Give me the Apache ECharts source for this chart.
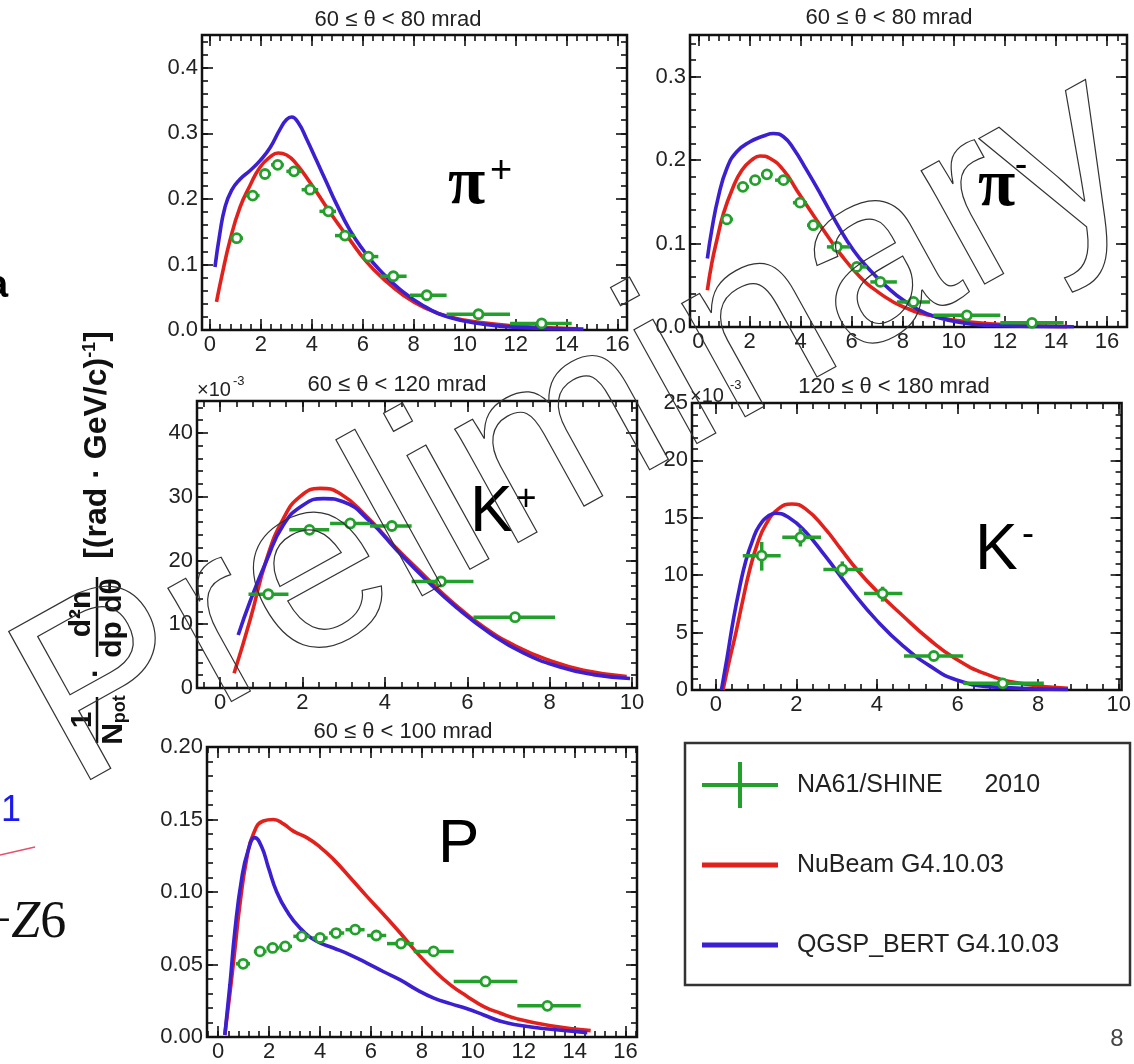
<!DOCTYPE html>
<html>
<head>
<meta charset="utf-8">
<script src="https://cdn.jsdelivr.net/npm/echarts@6/dist/echarts.min.js"></script>
<style>
  html, body { margin: 0; padding: 0; background: #fff; }
  #chart { width: 1134px; height: 1064px; }
</style>
</head>
<body>
<div id="chart"></div>
<script>
// ---- data ----
const NAME_DATA = 'NA61/SHINE      2010';
const NAME_NUBEAM = 'NuBeam G4.10.03';
const NAME_QGSP = 'QGSP_BERT G4.10.03';

// tick labels
const piXTicks = [0, 2, 4, 6, 8, 10, 12, 14, 16];
const kXTicks = [0, 2, 4, 6, 8, 10];
const piPlusYTicks = [0, 0.1, 0.2, 0.3, 0.4];
const piMinusYTicks = [0, 0.1, 0.2, 0.3];
const kPlusYTicks = [0, 10, 20, 30, 40];
const kMinusYTicks = [0, 5, 10, 15, 20, 25];
const protonYTicks = [0, 0.05, 0.1, 0.15, 0.2];

// pi+ 60-80 mrad : [p, value, pLow, pHigh]
const piPlusNA61 = [
  [1.05, 0.140, 0.80, 1.30], [1.68, 0.205, 1.40, 1.95], [2.16, 0.238, 1.95, 2.40],
  [2.66, 0.252, 2.40, 2.90], [3.30, 0.242, 3.00, 3.60], [3.93, 0.214, 3.60, 4.25],
  [4.65, 0.181, 4.30, 4.95], [5.30, 0.144, 4.91, 5.69], [6.22, 0.112, 5.95, 6.61],
  [7.20, 0.082, 6.68, 7.72], [8.51, 0.053, 7.85, 9.29], [10.54, 0.024, 9.29, 11.78],
  [13.02, 0.010, 11.78, 14.20]
];
const piPlusNuBeam = [
  [0.26, 0.043], [0.46, 0.081], [0.79, 0.137], [1.18, 0.187], [1.57, 0.220], [1.96, 0.248],
  [2.36, 0.264], [2.68, 0.270], [3.01, 0.267], [3.40, 0.253], [3.93, 0.225], [4.45, 0.195],
  [4.97, 0.165], [5.50, 0.137], [6.15, 0.104], [6.81, 0.078], [7.59, 0.053], [8.38, 0.035],
  [9.42, 0.020], [10.73, 0.011], [12.04, 0.006], [13.35, 0.0035], [14.40, 0.002]
];
const piPlusQgsp = [
  [0.20, 0.096], [0.39, 0.147], [0.59, 0.187], [0.85, 0.213], [1.18, 0.230], [1.57, 0.243],
  [1.96, 0.258], [2.36, 0.278], [2.75, 0.306], [3.01, 0.321], [3.21, 0.325], [3.47, 0.316],
  [3.80, 0.291], [4.19, 0.258], [4.58, 0.225], [4.97, 0.192], [5.50, 0.152], [6.02, 0.122],
  [6.67, 0.091], [7.46, 0.062], [8.38, 0.037], [9.42, 0.019], [10.73, 0.009], [12.04, 0.004],
  [14.66, 0.0015]
];

// pi- 60-80 mrad
const piMinusNA61 = [
  [1.11, 0.129, 0.90, 1.35], [1.74, 0.168, 1.50, 1.98], [2.22, 0.176, 2.00, 2.45],
  [2.68, 0.183, 2.45, 2.90], [3.33, 0.176, 3.00, 3.65], [3.98, 0.149, 3.70, 4.25],
  [4.50, 0.122, 4.25, 4.80], [5.42, 0.096, 5.03, 5.94], [6.20, 0.072, 5.94, 6.60],
  [7.12, 0.054, 6.73, 7.77], [8.42, 0.030, 7.77, 9.07], [10.51, 0.014, 9.20, 11.82],
  [13.06, 0.005, 11.82, 14.30]
];
const piMinusNuBeam = [
  [0.35, 0.044], [0.52, 0.076], [0.72, 0.104], [0.98, 0.136], [1.31, 0.164], [1.70, 0.188],
  [2.16, 0.202], [2.41, 0.205], [2.81, 0.202], [3.33, 0.188], [3.85, 0.164], [4.37, 0.140],
  [4.90, 0.116], [5.55, 0.088], [6.33, 0.060], [7.12, 0.040], [8.03, 0.024], [9.34, 0.012],
  [10.64, 0.006], [12.60, 0.002], [14.43, 0.0005]
];
const piMinusQgsp = [
  [0.35, 0.082], [0.52, 0.116], [0.78, 0.156], [1.11, 0.190], [1.50, 0.210], [2.02, 0.222],
  [2.55, 0.229], [2.94, 0.232], [3.33, 0.228], [3.72, 0.214], [4.24, 0.188], [4.77, 0.160],
  [5.42, 0.124], [6.07, 0.092], [6.72, 0.068], [7.38, 0.048], [8.03, 0.032], [8.94, 0.016],
  [9.99, 0.007], [11.30, 0.002], [14.70, 0.0003]
];

// K+ 60-120 mrad, values in units of 1e-3
const kPlusNA61 = [
  [1.17, 14.7, 0.69, 1.66], [2.17, 24.8, 1.68, 2.65], [3.16, 25.8, 2.67, 3.64],
  [4.17, 25.4, 3.64, 4.65], [5.36, 16.7, 4.65, 6.15], [7.16, 11.1, 6.15, 8.13]
];
const kPlusNuBeam = [
  [0.34, 2.3], [0.73, 10.7], [1.13, 20.2], [1.54, 26.6], [1.94, 30.0], [2.43, 31.3],
  [2.91, 30.5], [3.56, 26.9], [4.21, 22.4], [4.93, 17.8], [5.58, 13.8], [6.39, 9.6],
  [7.20, 6.5], [8.01, 4.3], [8.82, 2.8], [9.87, 1.8]
];
const kPlusQgsp = [
  [0.44, 8.3], [0.73, 13.6], [1.13, 20.0], [1.54, 25.6], [2.02, 28.7], [2.51, 29.7],
  [2.99, 29.2], [3.64, 26.1], [4.29, 21.6], [5.01, 16.9], [5.74, 12.6], [6.55, 8.6],
  [7.36, 5.5], [8.25, 3.3], [9.06, 2.1], [9.95, 1.5]
];

// K- 120-180 mrad, values in units of 1e-3 : [p, value, pLow, pHigh, vLow, vHigh]
const kMinusNA61 = [
  [1.14, 11.7, 0.67, 1.61, 10.4, 12.9], [2.10, 13.3, 1.65, 2.61, 12.5, 14.1],
  [3.14, 10.5, 2.67, 3.65, 9.9, 11.2], [4.14, 8.4, 3.68, 4.63, 7.7, 9.0],
  [5.41, 2.96, 4.67, 6.14, 2.7, 3.2], [7.12, 0.58, 6.14, 8.14, 0.45, 0.7]
];
const kMinusNuBeam = [
  [0.18, 0], [0.34, 2.6], [0.50, 5.0], [0.67, 7.8], [0.83, 10.3], [1.03, 12.7], [1.24, 14.4],
  [1.56, 15.8], [1.89, 16.2], [2.22, 15.8], [2.70, 14.1], [3.10, 12.3], [3.50, 10.5],
  [4.00, 8.6], [4.60, 6.6], [5.30, 4.4], [5.96, 2.7], [6.70, 1.4], [7.51, 0.6], [8.74, 0.15]
];
const kMinusQgsp = [
  [0.14, 0], [0.28, 2.8], [0.43, 6.0], [0.59, 8.9], [0.75, 11.3], [0.92, 13.1], [1.08, 14.3],
  [1.32, 15.2], [1.49, 15.4], [1.82, 15.0], [2.22, 13.8], [2.71, 11.7], [3.36, 8.7],
  [4.01, 6.0], [4.66, 3.8], [5.31, 2.1], [5.96, 0.9], [6.94, 0.25], [8.74, 0.05]
];

// p 60-100 mrad
const protonNA61 = [
  [0.98, 0.0505, 0.70, 1.25], [1.64, 0.0590, 1.40, 1.90], [2.14, 0.0614, 1.90, 2.40],
  [2.63, 0.0625, 2.40, 2.90], [3.28, 0.0694, 2.95, 3.60], [4.00, 0.0683, 3.70, 4.30],
  [4.63, 0.0717, 4.35, 4.95], [5.38, 0.0740, 5.00, 5.75], [6.21, 0.0700, 5.85, 6.60],
  [7.18, 0.0644, 6.63, 7.68], [8.46, 0.0590, 7.68, 9.25], [10.50, 0.0383, 9.25, 11.75],
  [12.93, 0.0215, 11.75, 14.24]
];
const protonNuBeam = [
  [0.26, 0.0014], [0.46, 0.030], [0.66, 0.061], [0.85, 0.091], [1.12, 0.123], [1.38, 0.140],
  [1.77, 0.149], [2.17, 0.150], [2.56, 0.147], [2.95, 0.142], [3.48, 0.1375], [4.00, 0.131],
  [4.53, 0.1225], [5.18, 0.110], [5.84, 0.097], [6.50, 0.0845], [7.15, 0.0717], [7.81, 0.058],
  [8.47, 0.046], [9.12, 0.036], [9.78, 0.028], [10.43, 0.021], [11.09, 0.0164], [11.75, 0.0125],
  [13.06, 0.0078], [14.63, 0.0044]
];
const protonQgsp = [
  [0.26, 0.0014], [0.46, 0.036], [0.66, 0.074], [0.92, 0.109], [1.18, 0.129], [1.44, 0.1375],
  [1.71, 0.131], [1.97, 0.117], [2.30, 0.100], [2.69, 0.087], [3.22, 0.075], [3.87, 0.066],
  [4.53, 0.0614], [5.18, 0.0567], [5.84, 0.051], [6.50, 0.045], [7.15, 0.0394], [7.81, 0.0325],
  [8.47, 0.0268], [9.12, 0.0230], [9.78, 0.0195], [10.43, 0.0152], [11.09, 0.0108],
  [11.75, 0.0083], [13.06, 0.0053], [14.50, 0.003]
];

// ---- layout / style ----
const FONT = '"Liberation Sans", Arial, Helvetica, sans-serif';
const SERIF = '"Liberation Serif", "Times New Roman", serif';
const GREEN = '#23a02b';
const RED = '#e3211c';
const BLUE = '#3b1fd1';
const INK = '#111';

const panels = [
  { box: [202, 35, 425, 295], x: [-0.31, 16.37], y: [0, 0.45], xTicks: piXTicks, yTicks: piPlusYTicks,
    xMinor: 0.4, yMinor: 0.02, digits: 1, na61: piPlusNA61, nubeam: piPlusNuBeam, qgsp: piPlusQgsp },
  { box: [690, 35, 437, 292], x: [-0.33, 16.78], y: [0, 0.35], xTicks: piXTicks, yTicks: piMinusYTicks,
    xMinor: 0.4, yMinor: 0.02, digits: 1, na61: piMinusNA61, nubeam: piMinusNuBeam, qgsp: piMinusQgsp },
  { box: [197, 401, 440, 287], x: [-0.56, 10.12], y: [0, 45], xTicks: kXTicks, yTicks: kPlusYTicks,
    xMinor: 0.4, yMinor: 2, digits: 0, na61: kPlusNA61, nubeam: kPlusNuBeam, qgsp: kPlusQgsp },
  { box: [692, 403, 436, 287], x: [-0.59, 10.07], y: [0, 25], xTicks: kXTicks, yTicks: kMinusYTicks,
    xMinor: 0.4, yMinor: 1, digits: 0, na61: kMinusNA61, nubeam: kMinusNuBeam, qgsp: kMinusQgsp },
  { box: [207, 747, 430, 290], x: [-0.44, 16.45], y: [0, 0.2], xTicks: piXTicks, yTicks: protonYTicks,
    xMinor: 0.4, yMinor: 0.01, digits: 2, na61: protonNA61, nubeam: protonNuBeam, qgsp: protonQgsp }
];

function ticksBetween(min, max, step) {
  const out = [];
  for (let i = Math.ceil(min / step - 1e-9); i * step <= max + 1e-9; i++) {
    out.push(+(i * step).toFixed(6));
  }
  return out;
}

function makeAxis(gi, pos, range, values, len, fmt) {
  return {
    type: 'value', gridIndex: gi, position: pos, min: range[0], max: range[1],
    splitLine: { show: false },
    axisLine: { show: false, onZero: false },
    axisTick: { show: true, inside: true, length: len, customValues: values,
      lineStyle: { color: INK, width: 1.6 } },
    axisLabel: fmt ? { show: true, customValues: values, formatter: fmt, margin: 4,
      fontSize: 22, color: '#222', fontFamily: FONT } : { show: false }
  };
}

// data points with error bars
function renderErr(params, api) {
  const c = api.coord([api.value(0), api.value(1)]);
  const l = api.coord([api.value(2), api.value(1)]);
  const r = api.coord([api.value(3), api.value(1)]);
  const lo = api.coord([api.value(0), api.value(4)]);
  const hi = api.coord([api.value(0), api.value(5)]);
  const st = { stroke: GREEN, lineWidth: 3.5 };
  return {
    type: 'group',
    children: [
      { type: 'line', shape: { x1: l[0], y1: l[1], x2: r[0], y2: r[1] }, style: st },
      { type: 'line', shape: { x1: lo[0], y1: lo[1], x2: hi[0], y2: hi[1] }, style: st },
      { type: 'circle', shape: { cx: c[0], cy: c[1], r: 4.5 },
        style: { fill: '#fff', stroke: GREEN, lineWidth: 2.8 } }
    ]
  };
}

const grid = [], xAxis = [], yAxis = [], series = [];
panels.forEach((pn, gi) => {
  grid.push({ left: pn.box[0], top: pn.box[1], width: pn.box[2], height: pn.box[3],
    show: true, borderColor: INK, borderWidth: 2.5, backgroundColor: 'transparent' });
  const xi = xAxis.length, yi = yAxis.length;
  const xMinor = ticksBetween(pn.x[0], pn.x[1], pn.xMinor);
  const yMinor = ticksBetween(pn.y[0], pn.y[1], pn.yMinor);
  xAxis.push(
    makeAxis(gi, 'bottom', pn.x, pn.xTicks, 11, v => String(v)),
    makeAxis(gi, 'bottom', pn.x, xMinor, 6, null),
    makeAxis(gi, 'top', pn.x, pn.xTicks, 11, null),
    makeAxis(gi, 'top', pn.x, xMinor, 6, null)
  );
  yAxis.push(
    makeAxis(gi, 'left', pn.y, pn.yTicks, 11, v => Number(v).toFixed(pn.digits)),
    makeAxis(gi, 'left', pn.y, yMinor, 6, null),
    makeAxis(gi, 'right', pn.y, pn.yTicks, 11, null),
    makeAxis(gi, 'right', pn.y, yMinor, 6, null)
  );
  const rows = pn.na61.map(d => d.length === 6 ? d : [d[0], d[1], d[2], d[3], d[1], d[1]]);
  series.push(
    { type: 'line', name: NAME_NUBEAM, xAxisIndex: xi, yAxisIndex: yi, data: pn.nubeam,
      showSymbol: false, smooth: 0.5,
      lineStyle: { color: RED, width: 3.6 }, itemStyle: { color: RED }, z: 2 },
    { type: 'line', name: NAME_QGSP, xAxisIndex: xi, yAxisIndex: yi, data: pn.qgsp,
      showSymbol: false, smooth: 0.5,
      lineStyle: { color: BLUE, width: 3.6 }, itemStyle: { color: BLUE }, z: 3 },
    { type: 'custom', name: NAME_DATA, xAxisIndex: xi, yAxisIndex: yi, data: rows,
      encode: { x: [0, 2, 3], y: [1, 4, 5] }, renderItem: renderErr,
      itemStyle: { color: GREEN }, z: 4 }
  );
});

const crossIcon = 'path://M0,21H76V25H0Z M36,0H40V46H36Z';
const barIcon = 'path://M0,0H0.01V0.01H0Z M0,20.5H76V25.5H0Z M75.99,45.99H76V46H75.99Z';

function txt(x, y, text, font, fill) {
  return { type: 'text', x: x, y: y, z: 50,
    style: { text: text, font: font, fill: fill || INK, align: 'center', verticalAlign: 'middle' } };
}
function leftTxt(x, y, text, font, fill) {
  return { type: 'text', x: x, y: y, z: 50,
    style: { text: text, font: font, fill: fill || '#000', align: 'left', verticalAlign: 'middle' } };
}

const graphic = [
  // panel titles
  txt(398, 20, '60 ≤ θ < 80 mrad', '22px ' + FONT, '#222'),
  txt(889, 18, '60 ≤ θ < 80 mrad', '22px ' + FONT, '#222'),
  txt(397, 385, '60 ≤ θ < 120 mrad', '22px ' + FONT, '#222'),
  txt(894, 387, '120 ≤ θ < 180 mrad', '22px ' + FONT, '#222'),
  txt(403, 732, '60 ≤ θ < 100 mrad', '22px ' + FONT, '#222'),
  // exponent markers
  leftTxt(197, 390, '×10', '20px ' + FONT, '#222'),
  leftTxt(233, 381, '-3', '13px ' + FONT, '#222'),
  leftTxt(690, 396, '×10', '20px ' + FONT, '#222'),
  leftTxt(730, 385, '-3', '13px ' + FONT, '#222'),
  // particle labels
  leftTxt(448, 185, 'π', 'bold 68px ' + SERIF),
  txt(501, 172, '+', '38px ' + FONT, '#000'),
  leftTxt(978, 187, 'π', 'bold 68px ' + SERIF),
  txt(1021, 167, '-', '38px ' + FONT, '#000'),
  leftTxt(470, 513, 'K', '64px ' + FONT),
  txt(526, 500, '+', '36px ' + FONT, '#000'),
  leftTxt(975, 551, 'K', '64px ' + FONT),
  txt(1028, 535, '-', '36px ' + FONT, '#000'),
  leftTxt(438, 845, 'P', '62px ' + FONT),
  // y-axis title (rotated)
  {
    type: 'group', x: 97, y: 743, rotation: Math.PI / 2, z: 50,
    children: [
      { type: 'line', shape: { x1: 0, y1: 0, x2: 46, y2: 0 }, style: { stroke: INK, lineWidth: 2.5 } },
      { type: 'text', x: 23, y: -14, style: { text: '1', font: 'bold 30px ' + FONT, fill: INK,
        align: 'center', verticalAlign: 'middle' } },
      { type: 'text', x: 23, y: 17, style: { text: '{n|N}{s|pot}', fill: INK, align: 'center', verticalAlign: 'middle',
        rich: { n: { fontSize: 30, fontWeight: 'bold', fontFamily: FONT },
                s: { fontSize: 18, fontWeight: 'bold', fontFamily: FONT, verticalAlign: 'bottom' } } } },
      { type: 'text', x: 70, y: 0, style: { text: '·', font: 'bold 30px ' + FONT, fill: INK,
        align: 'center', verticalAlign: 'middle' } },
      { type: 'line', shape: { x1: 86, y1: 0, x2: 166, y2: 0 }, style: { stroke: INK, lineWidth: 2.5 } },
      { type: 'text', x: 129, y: -15, style: { text: 'd²n', font: 'bold 30px ' + FONT, fill: INK,
        align: 'center', verticalAlign: 'middle' } },
      { type: 'text', x: 125, y: 16, style: { text: 'dp dθ', font: 'bold 30px ' + FONT, fill: INK,
        align: 'center', verticalAlign: 'middle' } },
      { type: 'text', x: 298, y: 0, style: { text: '{b|[(rad · GeV/c)}{s|-1}{b|]}', fill: INK,
        align: 'center', verticalAlign: 'middle',
        rich: { b: { fontSize: 32, fontWeight: 'bold', fontFamily: FONT },
                s: { fontSize: 18, fontWeight: 'bold', fontFamily: FONT, verticalAlign: 'top' } } } }
    ]
  },
  // legend frame
  { type: 'rect', z: 40, shape: { x: 685, y: 743, width: 445, height: 242 },
    style: { fill: 'none', stroke: '#333', lineWidth: 2.5 } },
  // slide fragments at the left edge
  leftTxt(-13, 287, 'a', 'bold 38px ' + FONT),
  leftTxt(1, 811, '1', '36px ' + FONT, '#1a1aee'),
  { type: 'line', z: 50, shape: { x1: 0, y1: 855, x2: 35, y2: 847 }, style: { stroke: '#e4506e', lineWidth: 1.5 } },
  { type: 'text', x: -18, y: 923, z: 50, style: { text: '{m|−}{z|Z}{n|6}', fill: '#111', align: 'left',
    verticalAlign: 'middle',
    rich: { m: { fontSize: 52, fontFamily: SERIF }, z: { fontSize: 52, fontFamily: SERIF, fontStyle: 'italic' },
            n: { fontSize: 52, fontFamily: SERIF } } } },
  // page number
  txt(1117, 1039, '8', '24px ' + FONT, '#444'),
  // watermark
  { type: 'text', x: 40, y: 730, rotation: 29 * Math.PI / 180, z: 100,
    style: { text: 'Preliminary', font: '246px ' + FONT, fill: 'none', stroke: '#333', lineWidth: 1.2,
      align: 'left', verticalAlign: 'middle' } }
];

const chart = echarts.init(document.getElementById('chart'), null, { renderer: 'canvas' });
chart.setOption({
  animation: false,
  backgroundColor: '#fff',
  grid: grid,
  xAxis: xAxis,
  yAxis: yAxis,
  legend: {
    orient: 'vertical', left: 702, top: 762, padding: 0, itemGap: 34,
    itemWidth: 76, itemHeight: 46, selectedMode: false,
    itemStyle: { borderWidth: 0 },
    formatter: name => '  ' + name,
    textStyle: { fontSize: 25, color: '#222', fontFamily: FONT },
    data: [
      { name: NAME_DATA, icon: crossIcon },
      { name: NAME_NUBEAM, icon: barIcon },
      { name: NAME_QGSP, icon: barIcon }
    ]
  },
  graphic: graphic,
  series: series
});
</script>
</body>
</html>
